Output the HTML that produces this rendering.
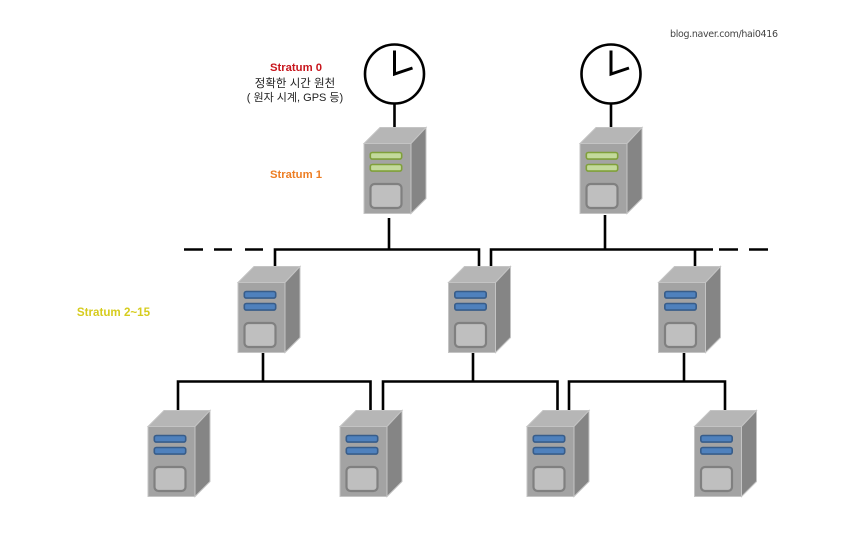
<!DOCTYPE html>
<html><head><meta charset="utf-8">
<style>
html,body{margin:0;padding:0;background:#fff;width:847px;height:555px;overflow:hidden}
svg{display:block}
text{font-family:"Liberation Sans","Noto Sans CJK KR",sans-serif}
</style></head><body>
<svg width="847" height="555" viewBox="0 0 847 555" xmlns="http://www.w3.org/2000/svg">
<defs>
<filter id="b" x="-5%" y="-5%" width="110%" height="110%"><feGaussianBlur stdDeviation="0.3"/></filter>
<g id="base">
<polygon points="0,16 16,0 62,0 47,16" fill="#b6b6b6" stroke="#c4c4c4" stroke-width="1"/>
<polygon points="47,16 62,0 62,71 47,86" fill="#858585" stroke="#c4c4c4" stroke-width="1"/>
<rect x="0" y="16" width="47" height="70" fill="#a3a3a3" stroke="#c4c4c4" stroke-width="1"/>
<rect x="6.5" y="56.5" width="31" height="24" rx="4" fill="#bfbfbf" stroke="#808080" stroke-width="2.2"/>
</g>
<g id="srvG"><use href="#base"/>
<rect x="6.3" y="25" width="31.4" height="6.6" rx="2" fill="#c3da9b" stroke="#80a03a" stroke-width="1.6"/>
<rect x="6.3" y="37" width="31.4" height="6.6" rx="2" fill="#c3da9b" stroke="#80a03a" stroke-width="1.6"/>
</g>
<g id="srvB"><use href="#base"/>
<rect x="6.3" y="25" width="31.4" height="6.6" rx="2" fill="#4f81bd" stroke="#385d8a" stroke-width="1.6"/>
<rect x="6.3" y="37" width="31.4" height="6.6" rx="2" fill="#4f81bd" stroke="#385d8a" stroke-width="1.6"/>
</g>
<g id="clock">
<circle cx="0" cy="0" r="29.5" fill="#fff" stroke="#000" stroke-width="2.6"/>
<path d="M0,-23.5V0L18,-6" fill="none" stroke="#000" stroke-width="3"/>
</g>
</defs>
<g filter="url(#b)">
<g fill="none" stroke="#000" stroke-width="2.6">
<path d="M394.5,104V128M611,104V128"/>
<path d="M389,218V249.5M275,267V249.5H479V267"/>
<path d="M605,215V249.5M491,267V249.5H713M695,249.5V267"/>
<path d="M184,249.5H203M214,249.5H232M245,249.5H263M719,249.5H738M749,249.5H768"/>
<path d="M263,352V381.5M178,411V381.5H370.5V411"/>
<path d="M473,352V381.5M383,411V381.5H557.5V411"/>
<path d="M684,352V381.5M569,411V381.5H725V411"/>
</g>
<use href="#clock" x="394.5" y="74"/>
<use href="#clock" x="611" y="74"/>
<use href="#srvG" x="364" y="127.5"/>
<use href="#srvG" x="580" y="127.5"/>
<use href="#srvB" x="238" y="266.5"/>
<use href="#srvB" x="448.5" y="266.5"/>
<use href="#srvB" x="658.5" y="266.5"/>
<use href="#srvB" x="148" y="410.5"/>
<use href="#srvB" x="340" y="410.5"/>
<use href="#srvB" x="527" y="410.5"/>
<use href="#srvB" x="694.5" y="410.5"/>
</g>
<text x="296" y="71" text-anchor="middle" font-size="11.3" font-weight="700" fill="#c8161d">Stratum 0</text>
<text x="295" y="87" text-anchor="middle" font-size="11.5" fill="#222">정확한 시간 원천</text>
<text x="295" y="101" text-anchor="middle" font-size="11" fill="#222">( 원자 시계, GPS 등)</text>
<text x="296" y="178" text-anchor="middle" font-size="11.3" font-weight="700" fill="#ed7d22">Stratum 1</text>
<text x="113.5" y="316" text-anchor="middle" font-size="11.6" font-weight="700" fill="#d6cc1e">Stratum 2~15</text>
<text x="724" y="37" text-anchor="middle" font-size="9.5" fill="#444" textLength="108" lengthAdjust="spacing" style="font-family:'DejaVu Sans',sans-serif">blog.naver.com/hai0416</text>
</svg>
</body></html>
